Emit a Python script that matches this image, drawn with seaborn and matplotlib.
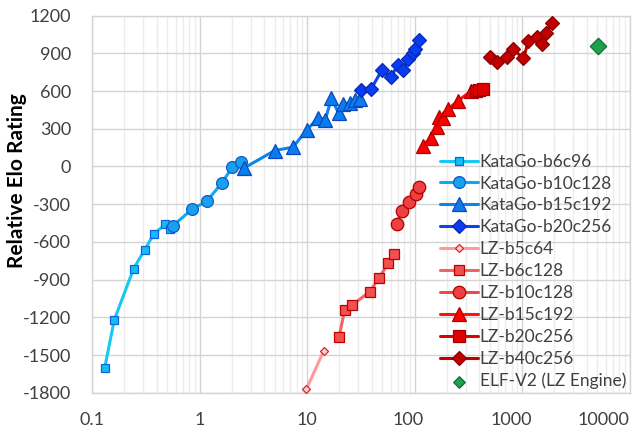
import matplotlib
matplotlib.use("Agg")
import matplotlib.pyplot as plt
import seaborn as sns
import numpy as np
import pandas as pd
from matplotlib.ticker import LogLocator, FixedLocator, NullFormatter
from matplotlib.transforms import ScaledTranslation

# ---- data ----
kg_b6c96_x = [0.131, 0.161, 0.244, 0.309, 0.375, 0.479, 0.537]
kg_b6c96_y = [-1607, -1222, -812, -663, -538, -461, -498]
kg_b10c128_x = [0.569, 0.855, 1.17, 1.61, 2.02, 2.41]
kg_b10c128_y = [-470, -339, -276, -132, -5, 35]
kg_b15c192_x = [2.59, 5.0, 7.4, 10.0, 12.7, 14.8, 16.9, 19.7, 21.8, 25.0, 27.8, 31.0]
kg_b15c192_y = [-13, 127, 154, 292, 388, 372, 545, 422, 495, 508, 531, 540]
kg_b20c256_x = [31.6, 39.3, 49.6, 60.2, 69.9, 78.3, 87.7, 96.6, 101, 110.6]
kg_b20c256_y = [610, 614, 766, 714, 805, 766, 853, 905, 937, 1008]
lz_b5c64_x = [9.87, 14.3]
lz_b5c64_y = [-1772, -1467]
lz_b6c128_x = [19.9, 22.4, 26.5, 38.4, 46.5, 56.9, 64.8]
lz_b6c128_y = [-1353, -1143, -1101, -995, -891, -769, -697]
lz_b10c128_x = [68.1, 75.8, 88.1, 102.4, 110]
lz_b10c128_y = [-459, -353, -284, -217, -167]
lz_b15c192_x = [119, 141, 163, 170, 183, 206, 255, 333]
lz_b15c192_y = [165, 226, 313, 393, 385, 457, 525, 597]
lz_b20c256_x = [375, 400, 431]
lz_b20c256_y = [600, 605, 616]
lz_b40c256_x = [504, 590, 722, 821, 1030, 1148, 1375, 1549, 1678, 1896]
lz_b40c256_y = [871, 831, 868, 934, 862, 995, 1030, 974, 1061, 1141]
elf_x = [5085]
elf_y = [955]

y_ticks = [-1800, -1500, -1200, -900, -600, -300, 0, 300, 600, 900, 1200]
x_ticks = [0.1, 1, 10, 100, 1000, 10000]
x_tick_labels = ["0.1", "1", "10", "100", "1000", "10000"]

series = [
    ("KataGo-b6c96", kg_b6c96_x, kg_b6c96_y, dict(color="#18C8F0", marker="s", ms=6.0, mfc="#10C0F4", mec="#1060E0")),
    ("KataGo-b10c128", kg_b10c128_x, kg_b10c128_y, dict(color="#10A8F0", marker="o", ms=8.5, mfc="#18A0EC", mec="#1058C8")),
    ("KataGo-b15c192", kg_b15c192_x, kg_b15c192_y, dict(color="#0C84EC", marker="^", ms=9.5, mfc="#0C7CEC", mec="#0848C0")),
    ("KataGo-b20c256", kg_b20c256_x, kg_b20c256_y, dict(color="#0A44F0", marker="D", ms=7.0, mfc="#0A3CF4", mec="#0828B0")),
    ("LZ-b5c64", lz_b5c64_x, lz_b5c64_y, dict(color="#FF9A9A", marker="D", ms=3.8, mfc="#FFD0D0", mec="#E02020")),
    ("LZ-b6c128", lz_b6c128_x, lz_b6c128_y, dict(color="#F06464", marker="s", ms=6.5, mfc="#F05050", mec="#C00000")),
    ("LZ-b10c128", lz_b10c128_x, lz_b10c128_y, dict(color="#F04848", marker="o", ms=9.0, mfc="#EE4040", mec="#B00000")),
    ("LZ-b15c192", lz_b15c192_x, lz_b15c192_y, dict(color="#FF1010", marker="^", ms=10.0, mfc="#FF0000", mec="#B00000")),
    ("LZ-b20c256", lz_b20c256_x, lz_b20c256_y, dict(color="#E00000", marker="s", ms=9.0, mfc="#E00000", mec="#A00000")),
    ("LZ-b40c256", lz_b40c256_x, lz_b40c256_y, dict(color="#C00000", marker="D", ms=7.2, mfc="#C00000", mec="#880000")),
]

sns.set_theme(style="white")
plt.rcParams["font.family"] = ["Lato", "DejaVu Sans"]

fig = plt.figure(figsize=(6.33, 4.33), dpi=100)
ax = fig.add_axes([92 / 633, 1 - 392.7 / 433, (629.5 - 92) / 633, (392.7 - 15.7) / 433])

for name, xs, ys, st in series:
    df = pd.DataFrame({"x": xs, "y": ys})
    sns.lineplot(data=df, x="x", y="y", ax=ax, color=st["color"], linewidth=2.2,
                 marker=st["marker"], markersize=st["ms"], markerfacecolor=st["mfc"],
                 markeredgecolor=st["mec"], markeredgewidth=0.9, label=name, zorder=3)

df_elf = pd.DataFrame({"x": elf_x, "y": elf_y})
sns.scatterplot(data=df_elf, x="x", y="y", ax=ax, marker="D", s=70, color="#1FA050",
                edgecolor="#107030", linewidth=0.9, label="ELF-V2 (LZ Engine)", zorder=4)

ax.set_xscale("log")
ax.set_xlim(0.1, 10000)
ax.set_ylim(-1800, 1200)
ax.set_yticks(y_ticks)
ax.set_yticklabels([str(v) for v in y_ticks])
ax.xaxis.set_major_locator(FixedLocator(x_ticks))
ax.set_xticklabels(x_tick_labels)
ax.xaxis.set_minor_locator(LogLocator(base=10, subs=np.arange(2, 10), numticks=100))
ax.xaxis.set_minor_formatter(NullFormatter())

ax.grid(True, which="major", axis="both", color="#D4D4D4", linewidth=1.0, zorder=0)
ax.grid(True, which="minor", axis="x", color="#ECECEC", linewidth=1.0, zorder=0)
ax.set_axisbelow(True)
for s in ax.spines.values():
    s.set_color("#D4D4D4")
    s.set_linewidth(1.0)

ax.tick_params(axis="y", which="both", length=0, labelsize=13, colors="#404040", pad=15)
ax.tick_params(axis="x", which="both", length=0, labelsize=13, colors="#404040", pad=14)

# Excel-like shifting of the crowded right-hand labels
x_label_shift_px = [0, 0, 0, -6, -11, 0]
for lbl, dx in zip(ax.get_xticklabels(), x_label_shift_px):
    lbl.set_transform(lbl.get_transform() + ScaledTranslation(dx / 100, 0, fig.dpi_scale_trans))
ax.get_xticklabels()[-1].set_horizontalalignment("right")

ax.set_xlabel("")
ax.set_ylabel("Relative Elo Rating", fontsize=15, fontweight="bold", color="#000000")
ax.yaxis.set_label_coords(-0.121, 0.5615)

handles, labels = ax.get_legend_handles_labels()
leg = ax.legend(handles, labels, loc="lower right", bbox_to_anchor=(1.0, 0.0), frameon=False,
                fontsize=12.5, handlelength=2.2, handletextpad=0.1, labelspacing=0.34,
                borderaxespad=0.0, borderpad=0.2)
leg.legend_handles[-1].set_sizes([35])
for t in leg.get_texts():
    t.set_color("#404040")

fig.savefig("out.png", dpi=100)
